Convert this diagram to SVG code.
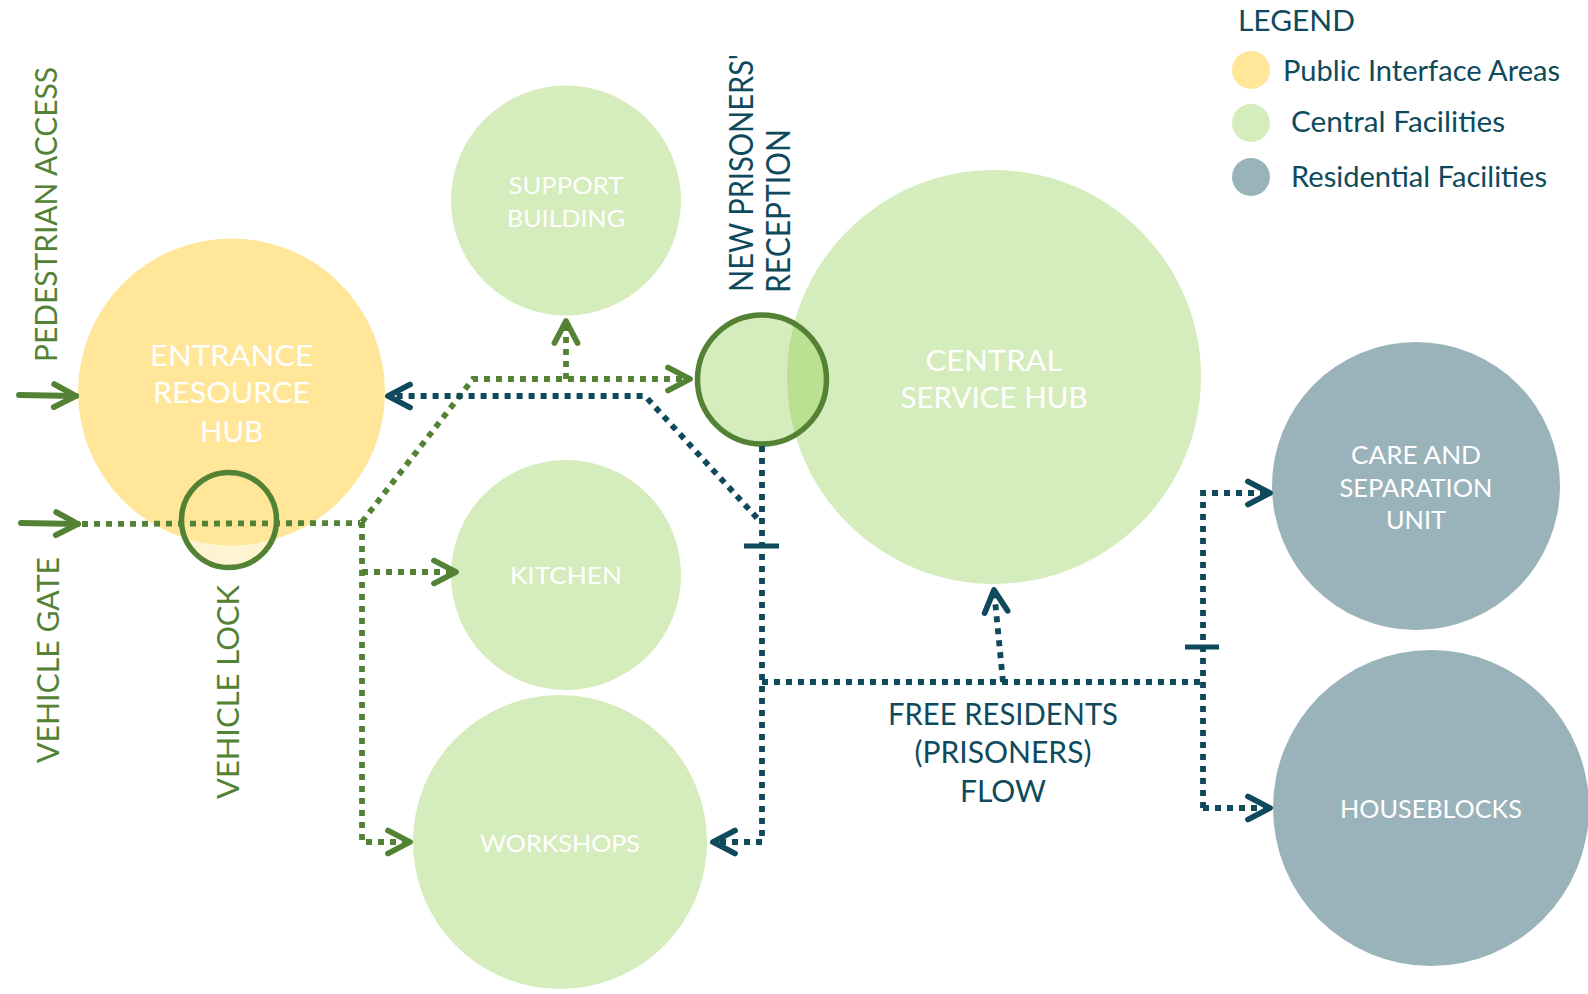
<svg xmlns="http://www.w3.org/2000/svg" width="1588" height="994" viewBox="0 0 1588 994">
<style>
.node-yellow{fill:#FFE699}
.node-green{fill:#D5ECBC}
.node-grey{fill:#9AB3BB}
.wt{fill:#FFFFFF;font-family:Lato,"Liberation Sans",sans-serif;text-anchor:middle}
.tt{fill:#0E4A5C;font-family:Lato,"Liberation Sans",sans-serif}
.gt{fill:#548235;font-family:Lato,"Liberation Sans",sans-serif}
.gd{fill:none;stroke:#548235;stroke-width:5.8;stroke-dasharray:6 6}
.td{fill:none;stroke:#0E4A5C;stroke-width:5.8;stroke-dasharray:6 6}
.gs{fill:none;stroke:#548235;stroke-width:5.8;stroke-linecap:round}
.tick{fill:none;stroke:#0E4A5C;stroke-width:5}
</style>
<defs>
<marker id="ag" markerUnits="userSpaceOnUse" markerWidth="60" markerHeight="60" refX="0" refY="0" viewBox="-30 -30 60 60" orient="auto" overflow="visible">
<path d="M-22,-11.5 L0,0 L-22,11.5" fill="none" stroke="#548235" stroke-width="5.8" stroke-linecap="round" stroke-linejoin="round"/>
</marker>
<marker id="at" markerUnits="userSpaceOnUse" markerWidth="60" markerHeight="60" refX="0" refY="0" viewBox="-30 -30 60 60" orient="auto" overflow="visible">
<path d="M-22,-11.5 L0,0 L-22,11.5" fill="none" stroke="#0E4A5C" stroke-width="5.8" stroke-linecap="round" stroke-linejoin="round"/>
</marker>
</defs>
<rect width="1588" height="994" fill="#FFFFFF"/>

<g id="entrance-resource-hub">
<circle class="node-yellow" cx="231.5" cy="392" r="153.5"/>
<text class="wt" font-size="29" x="231.5" y="366" textLength="163" lengthAdjust="spacingAndGlyphs">ENTRANCE</text>
<text class="wt" font-size="29" x="231.5" y="403" textLength="157" lengthAdjust="spacingAndGlyphs">RESOURCE</text>
<text class="wt" font-size="29" x="231.5" y="442" textLength="63" lengthAdjust="spacingAndGlyphs">HUB</text>
</g>

<g id="support-building">
<circle class="node-green" cx="566" cy="200.5" r="115"/>
<text class="wt" font-size="24" x="566" y="194" textLength="115" lengthAdjust="spacingAndGlyphs">SUPPORT</text>
<text class="wt" font-size="24" x="566" y="227" textLength="118" lengthAdjust="spacingAndGlyphs">BUILDING</text>
</g>

<g id="kitchen">
<circle class="node-green" cx="566" cy="575" r="115"/>
<text class="wt" font-size="24" x="566" y="584" textLength="112" lengthAdjust="spacingAndGlyphs">KITCHEN</text>
</g>

<g id="workshops">
<circle class="node-green" cx="560" cy="842" r="147"/>
<text class="wt" font-size="24" x="560" y="852" textLength="160" lengthAdjust="spacingAndGlyphs">WORKSHOPS</text>
</g>

<g id="central-service-hub">
<circle class="node-green" cx="994" cy="377" r="207"/>
<text class="wt" font-size="29" x="994" y="371" textLength="137" lengthAdjust="spacingAndGlyphs">CENTRAL</text>
<text class="wt" font-size="29" x="994" y="408" textLength="187" lengthAdjust="spacingAndGlyphs">SERVICE HUB</text>
</g>

<g id="care-and-separation-unit">
<circle class="node-grey" cx="1416" cy="486" r="144"/>
<text class="wt" font-size="25" x="1416" y="464" textLength="130" lengthAdjust="spacingAndGlyphs">CARE AND</text>
<text class="wt" font-size="25" x="1416" y="496.5" textLength="153" lengthAdjust="spacingAndGlyphs">SEPARATION</text>
<text class="wt" font-size="25" x="1416" y="529" textLength="60" lengthAdjust="spacingAndGlyphs">UNIT</text>
</g>

<g id="houseblocks">
<circle class="node-grey" cx="1431" cy="808" r="158"/>
<text class="wt" font-size="25" x="1431" y="818" textLength="182" lengthAdjust="spacingAndGlyphs">HOUSEBLOCKS</text>
</g>

<g id="new-prisoners-reception">
<circle cx="762" cy="379.5" r="64.5" fill="rgb(140,207,75)" fill-opacity="0.37" stroke="#548235" stroke-width="5.5"/>
<text class="tt" font-size="32" transform="translate(753,292) rotate(-90)" textLength="238" lengthAdjust="spacingAndGlyphs">NEW PRISONERS'</text>
<text class="tt" font-size="32" transform="translate(790,293) rotate(-90)" textLength="164" lengthAdjust="spacingAndGlyphs">RECEPTION</text>
</g>

<g id="vehicle-lock">
<circle cx="229" cy="520" r="47.5" fill="#FFE699" fill-opacity="0.45" stroke="#548235" stroke-width="5.5"/>
<text class="gt" font-size="31" transform="translate(239,799) rotate(-90)" textLength="214" lengthAdjust="spacingAndGlyphs">VEHICLE LOCK</text>
</g>

<g id="pedestrian-access">
<text class="gt" font-size="31" transform="translate(57,362) rotate(-90)" textLength="295" lengthAdjust="spacingAndGlyphs">PEDESTRIAN ACCESS</text>
</g>

<g id="vehicle-gate">
<text class="gt" font-size="31" transform="translate(59,763) rotate(-90)" textLength="206" lengthAdjust="spacingAndGlyphs">VEHICLE GATE</text>
</g>

<g id="free-residents-flow-label">
<text class="tt" font-size="30" text-anchor="middle" x="1003" y="725" textLength="230" lengthAdjust="spacingAndGlyphs">FREE RESIDENTS</text>
<text class="tt" font-size="30" text-anchor="middle" x="1003" y="763" textLength="177" lengthAdjust="spacingAndGlyphs">(PRISONERS)</text>
<text class="tt" font-size="30" text-anchor="middle" x="1003" y="802" textLength="86" lengthAdjust="spacingAndGlyphs">FLOW</text>
</g>

<g id="connectors">
<!-- entry arrows -->
<path class="gs" d="M19,395 L76,396" marker-end="url(#ag)"/>
<path class="gs" d="M21,523 L78,524" marker-end="url(#ag)"/>
<!-- green service flow -->
<path class="gd" d="M82,524 L360,523"/>
<path class="gd" d="M362,522 L473,379 L690,379" marker-end="url(#ag)"/>
<path class="gd" d="M566,379 L566,321" marker-end="url(#ag)"/>
<path class="gd" d="M362,522 L362,842 L410,842" marker-end="url(#ag)"/>
<path class="gd" d="M362,572 L456,572" marker-end="url(#ag)"/>
<!-- teal flows -->
<path class="td" d="M757,518 L645,396 L388,396" marker-end="url(#at)"/>
<path class="td" d="M762,446 L762,842 L713,842" marker-end="url(#at)"/>
<path class="td" d="M762,682 L1203,682"/>
<path class="td" d="M1003,682 L994,590" marker-end="url(#at)"/>
<path class="td" d="M1203,808 L1203,493 L1270,493" marker-end="url(#at)"/>
<path class="td" d="M1203,808 L1270,808" marker-end="url(#at)"/>
<path class="tick" d="M744,546 L779,546"/>
<path class="tick" d="M1185,647 L1219,647"/>
</g>

<g id="legend">
<text class="tt" font-size="28" x="1238" y="31" textLength="117" lengthAdjust="spacingAndGlyphs">LEGEND</text>
<circle cx="1251" cy="70" r="19" fill="#FFE699"/>
<text class="tt" font-size="29" x="1283" y="81" textLength="277" lengthAdjust="spacingAndGlyphs">Public Interface Areas</text>
<circle cx="1251" cy="123" r="19" fill="#D5ECBC"/>
<text class="tt" font-size="29" x="1291" y="132" textLength="214" lengthAdjust="spacingAndGlyphs">Central Facilities</text>
<circle cx="1251" cy="177" r="19" fill="#9AB3BB"/>
<text class="tt" font-size="29" x="1291" y="187" textLength="256" lengthAdjust="spacingAndGlyphs">Residential Facilities</text>
</g>
</svg>
